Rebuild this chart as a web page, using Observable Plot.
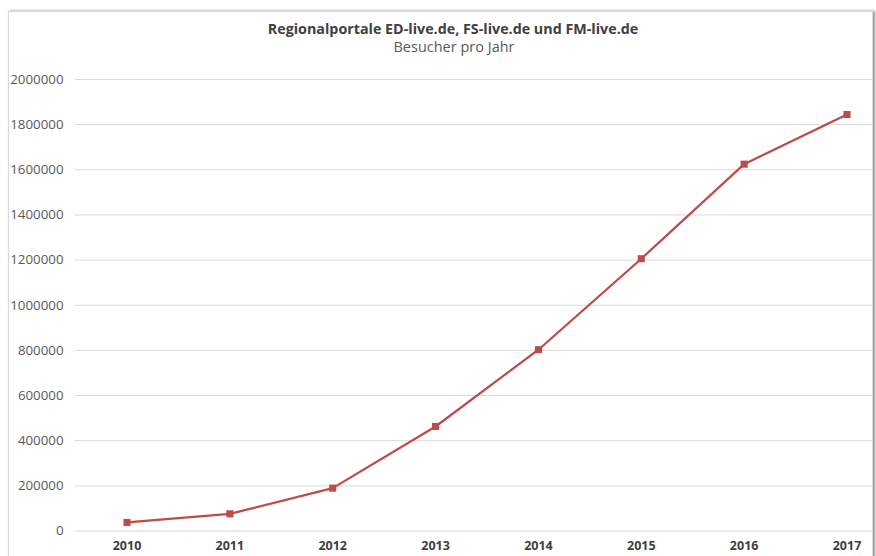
<!DOCTYPE html>
<html><head><meta charset="utf-8">
<script src="https://cdn.jsdelivr.net/npm/d3@7"></script>
<script src="https://cdn.jsdelivr.net/npm/@observablehq/plot@0.6"></script>
<style>
body{margin:0;background:#fff;font-family:"Open Sans",sans-serif;}
#wrap{position:relative;width:876px;height:556px;overflow:hidden;background:#fff;}
#frame{position:absolute;left:8px;top:11px;width:863px;height:600px;border:1px solid #d9d9d9;box-shadow:2px 0 3px rgba(0,0,0,0.45);background:#fff;}
#title{position:absolute;top:19px;left:0;width:906px;text-align:center;font-size:14.3px;line-height:20px;font-weight:bold;color:#404040;white-space:nowrap;}
#subtitle{position:absolute;top:37px;left:0;width:908px;text-align:center;font-size:14.5px;line-height:20px;color:#595959;white-space:nowrap;}
#chart{position:absolute;top:60px;left:0;}
</style></head>
<body>
<div id="wrap">
  <div id="frame"></div>
  <div id="title">Regionalportale ED-live.de, FS-live.de und FM-live.de</div>
  <div id="subtitle">Besucher pro Jahr</div>
  <div id="chart"></div>
</div>
<script>
const years = ["2010","2011","2012","2013","2014","2015","2016","2017"];
const visitors = [38000, 76000, 190000, 463000, 803000, 1206000, 1625000, 1845000];
const yTicks = [0, 200000, 400000, 600000, 800000, 1000000, 1200000, 1400000, 1600000, 1800000, 2000000];

const data = years.map((y, i) => ({year: y, value: visitors[i]}));
const red = "#be4b48";

const chart = Plot.plot({
  width: 876,
  height: 496,
  marginTop: 19,
  marginBottom: 25.5,
  marginLeft: 75,
  marginRight: 4,
  style: {fontFamily: "'Open Sans', sans-serif", background: "transparent", overflow: "visible"},
  x: {type: "point", domain: years, padding: 0, round: false, insetLeft: 51.5, insetRight: 25.5},
  y: {domain: [0, 2000000]},
  marks: [
    Plot.gridY(yTicks, {stroke: "#d9d9d9", strokeOpacity: 1, strokeWidth: 1}),
    Plot.axisY(yTicks, {tickSize: 0, tickPadding: 12, tickFormat: d => String(d), fill: "#595959", fontSize: 13.3, label: null}),
    Plot.axisX({tickSize: 0, tickPadding: 10, fill: "#404040", fontSize: 12.5, fontWeight: "bold", label: null}),
    Plot.line(data, {x: "year", y: "value", stroke: red, strokeWidth: 2.25}),
    Plot.dot(data, {x: "year", y: "value", symbol: "square", r: 4, fill: red, stroke: "none"})
  ]
});
document.getElementById("chart").appendChild(chart);
</script>
</body></html>
